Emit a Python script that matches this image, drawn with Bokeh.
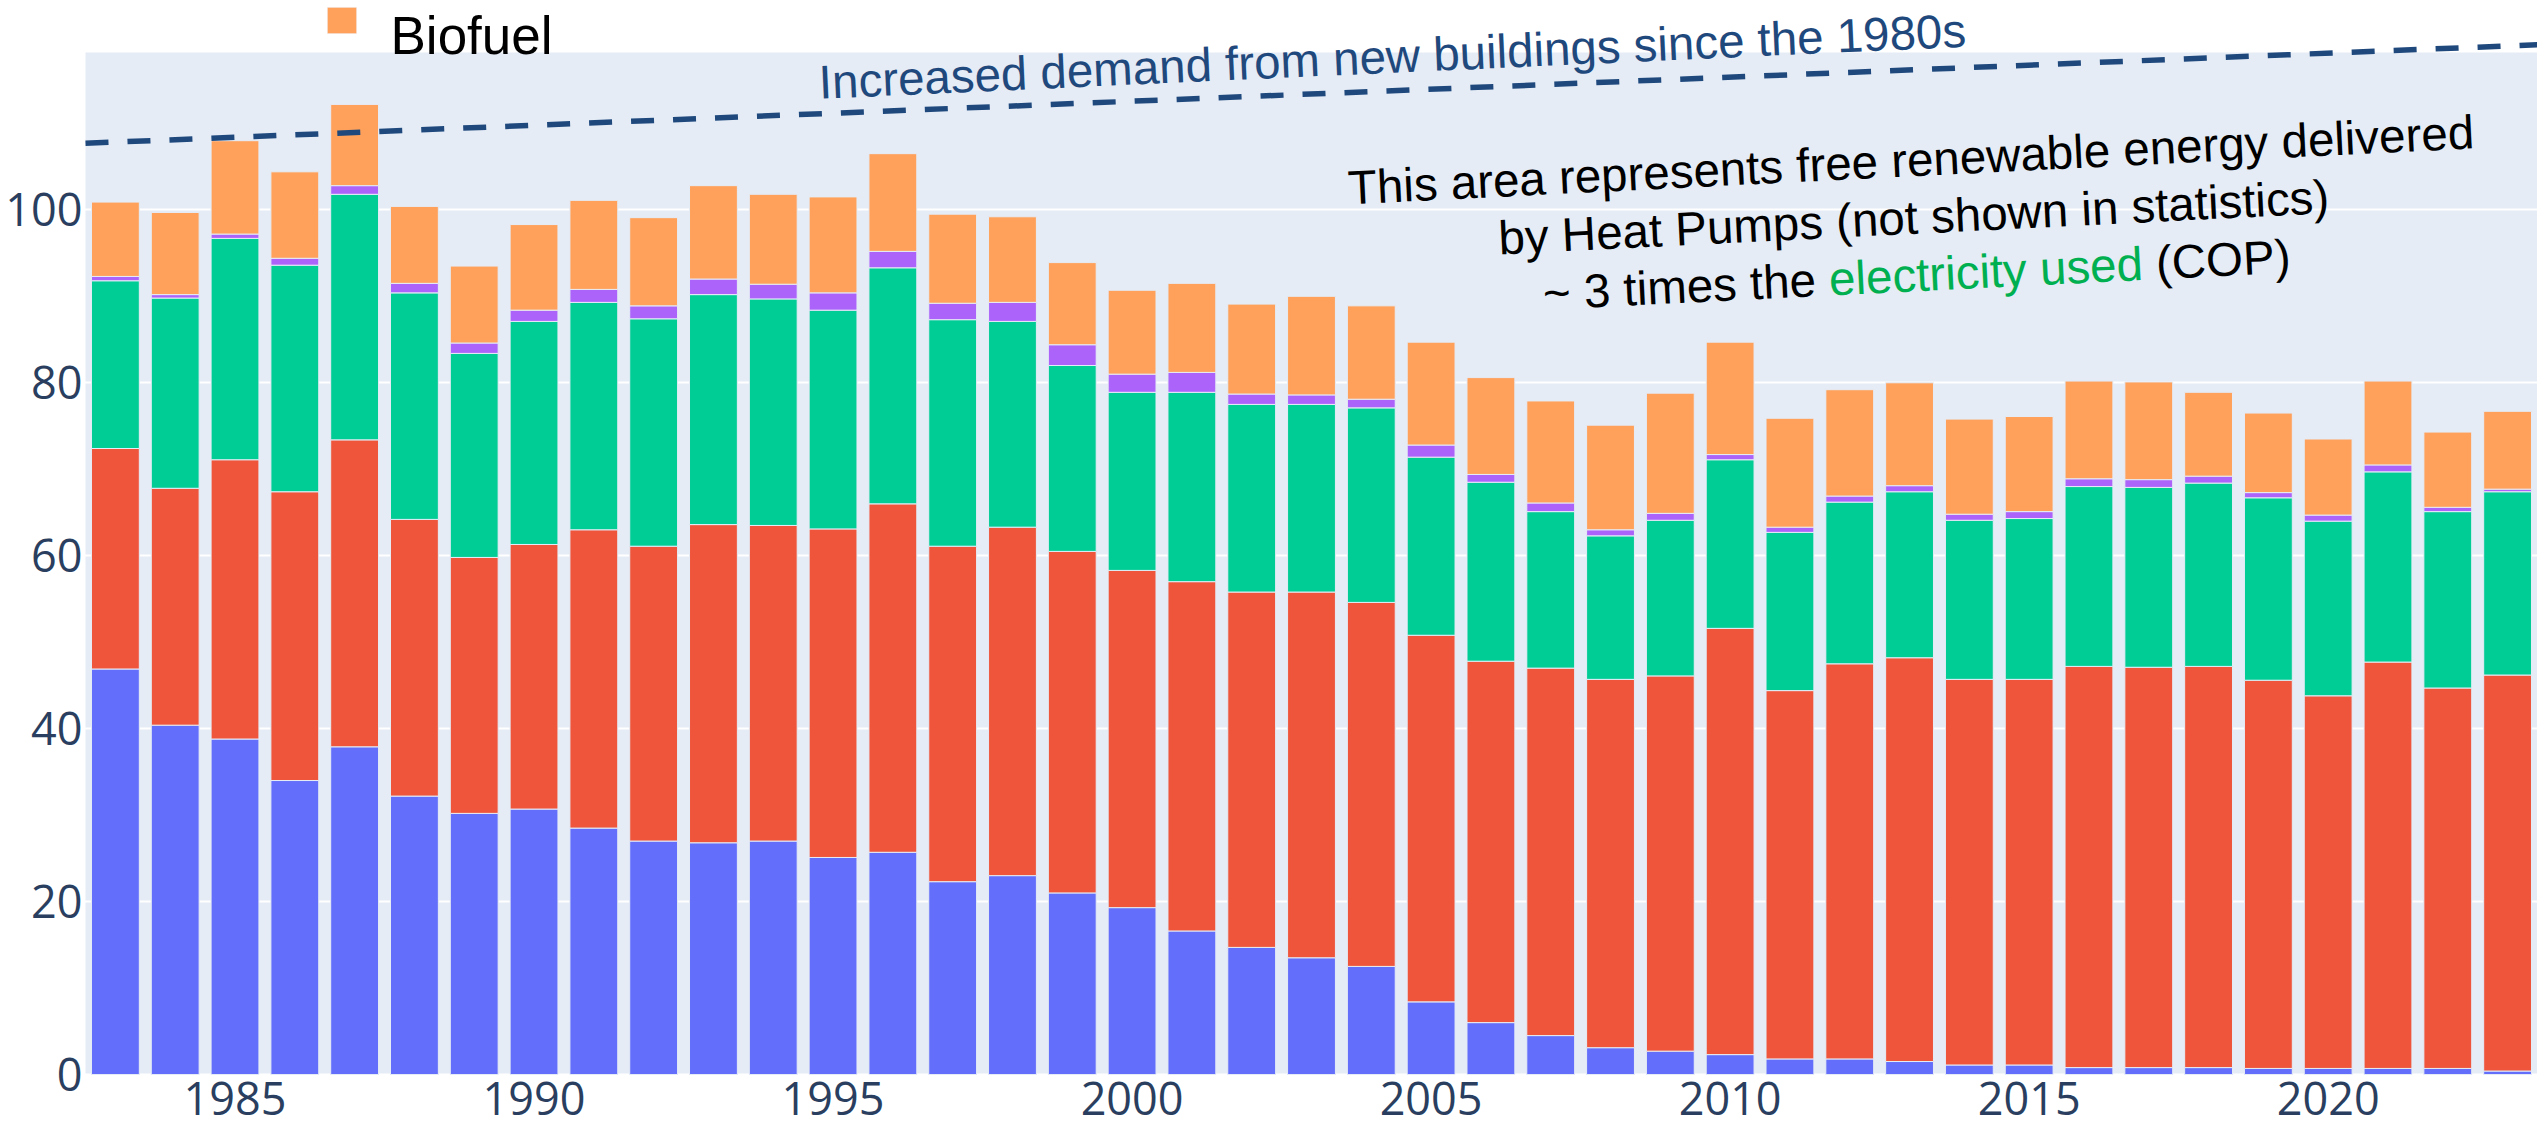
import math
from bokeh.plotting import figure
from bokeh.models import (Range1d, FixedTicker, SingleIntervalTicker, Label,
                          BoxAnnotation, ColumnDataSource)
from bokeh.embed import file_html
from bokeh.resources import INLINE

# ---------------- data ----------------
years = list(range(1983, 2024))
oil = [46.9, 40.4, 38.8, 34.0, 37.9, 32.2, 30.2, 30.7, 28.5, 27.0,
       26.8, 27.0, 25.1, 25.7, 22.3, 23.0, 21.0, 19.3, 16.6, 14.7,
       13.5, 12.5, 8.4, 6.0, 4.5, 3.1, 2.7, 2.3, 1.8, 1.8,
       1.5, 1.1, 1.1, 0.8, 0.8, 0.8, 0.7, 0.7, 0.7, 0.7, 0.4]
district_heating = [25.5, 27.4, 32.3, 33.4, 35.5, 32.0, 29.6, 30.6, 34.5, 34.1,
                    36.8, 36.5, 38.0, 40.3, 38.8, 40.3, 39.5, 39.0, 40.4, 41.1,
                    42.3, 42.1, 42.4, 41.8, 42.5, 42.6, 43.4, 49.3, 42.6, 45.7,
                    46.7, 44.6, 44.6, 46.4, 46.3, 46.4, 44.9, 43.1, 47.0, 44.0, 45.8]
electricity = [19.4, 22.0, 25.6, 26.2, 28.4, 26.2, 23.6, 25.8, 26.3, 26.3,
               26.6, 26.2, 25.3, 27.3, 26.2, 23.8, 21.5, 20.6, 21.9, 21.7,
               21.7, 22.5, 20.6, 20.7, 18.1, 16.6, 18.0, 19.5, 18.3, 18.7,
               19.2, 18.4, 18.6, 20.8, 20.8, 21.2, 21.1, 20.2, 22.0, 20.4, 21.2]
gas = [0.5, 0.4, 0.5, 0.8, 1.0, 1.1, 1.2, 1.3, 1.5, 1.5,
       1.8, 1.7, 2.0, 1.9, 1.9, 2.2, 2.4, 2.1, 2.3, 1.2,
       1.1, 1.0, 1.4, 0.9, 1.0, 0.7, 0.8, 0.6, 0.6, 0.7,
       0.7, 0.7, 0.8, 0.9, 0.9, 0.8, 0.6, 0.7, 0.8, 0.5, 0.3]
biofuel = [8.6, 9.5, 10.8, 10.0, 9.4, 8.9, 8.9, 9.9, 10.3, 10.2,
           10.8, 10.4, 11.1, 11.3, 10.3, 9.9, 9.5, 9.7, 10.3, 10.4,
           11.4, 10.8, 11.9, 11.2, 11.8, 12.1, 13.9, 13.0, 12.6, 12.3,
           11.9, 11.0, 11.0, 11.3, 11.3, 9.7, 9.2, 8.8, 9.7, 8.7, 9.0]

series_names = ["Oil", "District heating", "Electricity", "Gas", "Biofuel"]
series_colors = ["#636EFA", "#EF553B", "#00CC96", "#AB63FA", "#FFA15A"]

y_ticks = [0, 20, 40, 60, 80, 100]
demand_line_x = [1982.5, 2023.5]
demand_line_y = [107.7, 119.1]

# ---------------- layout ----------------
W, H = 2537, 1132                 # canvas sits at the page's top-left corner
PLOT_X0, PLOT_X1 = 1982.5, 2023.5  # plot area (light background)
PLOT_Y0, PLOT_Y1 = 0.0, 118.2
PAGE_L, PAGE_B = 85.0, 1074.0      # px of plot-area left / bottom
PX_YEAR = 2452.0 / (PLOT_X1 - PLOT_X0)
PX_UNIT = 1022.0 / (PLOT_Y1 - PLOT_Y0)

X_START = PLOT_X0 - PAGE_L / PX_YEAR
X_END = PLOT_X0 + (W - PAGE_L) / PX_YEAR
Y_START = -(H - PAGE_B) / PX_UNIT
Y_END = PAGE_B / PX_UNIT


def px_x(page_x):
    return PLOT_X0 + (page_x - PAGE_L) / PX_YEAR


def px_y(page_y):
    return (PAGE_B - page_y) / PX_UNIT


p = figure(width=W, height=H, output_backend="svg", toolbar_location=None,
           x_range=Range1d(X_START, X_END), y_range=Range1d(Y_START, Y_END),
           min_border_left=0, min_border_right=0,
           min_border_top=0, min_border_bottom=0)
p.background_fill_color = "white"
p.border_fill_color = "white"
p.outline_line_color = None

# plot-area background
p.quad(left=[PLOT_X0], right=[PLOT_X1], bottom=[PLOT_Y0], top=[PLOT_Y1],
       fill_color="#E5ECF6", line_color=None, level="image")

src = ColumnDataSource(dict(year=years, **{
    "Oil": oil, "District heating": district_heating,
    "Electricity": electricity, "Gas": gas, "Biofuel": biofuel}))

rs = p.vbar_stack(series_names, x="year", width=0.8, source=src,
                  fill_color=series_colors, line_color="#E5ECF6", line_width=1)

# axes drawn at the plot-area edges
p.xaxis.ticker = SingleIntervalTicker(interval=5)
p.yaxis.ticker = FixedTicker(ticks=y_ticks)
p.xaxis.fixed_location = PLOT_Y0
p.yaxis.fixed_location = PLOT_X0
for ax in (p.xaxis[0], p.yaxis[0]):
    ax.axis_line_color = None
    ax.major_tick_line_color = None
    ax.minor_tick_line_color = None
    ax.major_tick_out = 0
    ax.major_tick_in = 0
    ax.major_label_text_font = "Open Sans"
    ax.major_label_text_color = "#2a3f5f"
    ax.major_label_text_font_size = "45px"
p.xaxis.major_label_standoff = 3
p.yaxis.major_label_standoff = 3
p.xgrid.visible = False
p.ygrid.grid_line_color = "white"
p.ygrid.grid_line_width = 2

# dashed demand line
p.line(demand_line_x, demand_line_y, line_color="#1f497d", line_width=5.5,
       line_dash="23 19")

FONT = "Liberation Sans"
FS = 47.5
K = 0.3  # baseline correction (fraction of font size)


def add_text(bx, by, txt, ang, size, color, align):
    """bx, by: wanted baseline anchor in px (from top-left)."""
    s, c = math.sin(ang), math.cos(ang)
    ax_, ay_ = bx - K * size * s, by - K * size * c
    p.add_layout(Label(x=px_x(ax_), y=px_y(ay_), angle=ang, text=txt,
                       text_font=FONT, text_font_size=f"{size}px", text_color=color,
                       text_align=align, text_baseline="alphabetic"))


ang1 = math.radians(2.6)
add_text(819, 96, "Increased demand from new buildings since the 1980s",
         ang1, FS, "#1f497d", "left")

# annotation block (rotated, centred lines)
ang2 = math.radians(2.85)
cx, cy = 1914.0, 231.0  # centre of line-2 baseline
lh = 57.5
ca, sa = math.cos(ang2), math.sin(ang2)


def line_center(k):
    return cx + k * lh * sa, cy + k * lh * ca


for k, txt in ((-1, "This area represents free renewable energy delivered"),
               (0, "by Heat Pumps (not shown in statistics)")):
    lx, ly = line_center(k)
    add_text(lx, ly, txt, ang2, FS, "black", "center")

# third line with a coloured phrase (offsets in em, Arial metrics)
parts = [("~ 3 times the", "black", 0.0),
         ("electricity used", "#00B050", 6.031),
         ("(COP)", "black", 6.031 + 6.613 + 0.278)]
total = 15.755 * FS
lx, ly = line_center(1)
sx, sy = lx - total / 2 * ca, ly + total / 2 * sa
for txt, col, off in parts:
    d = off * FS
    add_text(sx + d * ca, sy - d * sa, txt, ang2, FS, col, "left")

# legend entry shown at the top
p.add_layout(BoxAnnotation(left=px_x(327), right=px_x(356), top=px_y(7), bottom=px_y(33),
                           fill_color="#FFA15A", fill_alpha=1.0,
                           line_color="#E5ECF6", line_width=1))
add_text(390, 51, "Biofuel", 0.0, 53, "black", "left")

open("out.html", "w").write(file_html(p, INLINE))
